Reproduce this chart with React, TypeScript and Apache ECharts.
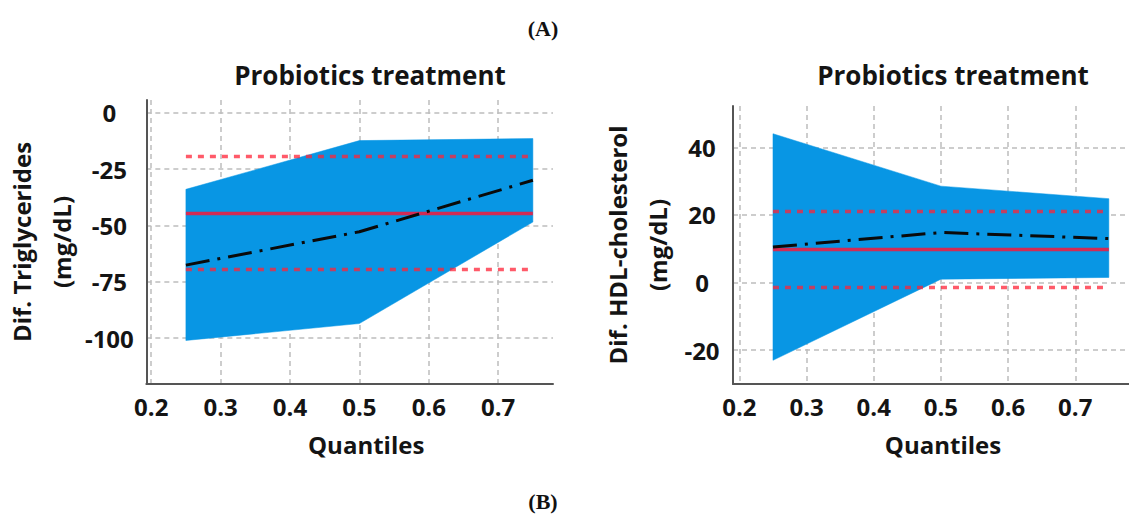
import React, { useEffect, useRef } from 'react';
import * as echarts from 'echarts';

// ---- data ----
const quantiles = [0.25, 0.5, 0.75];

// Panel 1: Triglycerides
const tgLower = [-101, -93.5, -48.5];
const tgUpper = [-34, -12.4, -11.5];
const tgEstimate = [-67.6, -52.8, -30];
const tgMean = -44.7;
const tgCiLow = -69.5;
const tgCiHigh = -19.5;

// Panel 2: HDL-cholesterol
const hdlLower = [-23, 1, 1.5];
const hdlUpper = [44, 28.5, 24.8];
const hdlEstimate = [10.5, 14.8, 13];
const hdlMean = 9.8;
const hdlCiLow = -1.5;
const hdlCiHigh = 21;

const xTicks = [0.2, 0.3, 0.4, 0.5, 0.6, 0.7];
const tgTicks = [-100, -75, -50, -25, 0];
const hdlTicks = [-20, 0, 20, 40];

const titleText = 'Probiotics treatment';
const xName = 'Quantiles';
const tgName = 'Dif. Triglycerides\n(mg/dL)';
const hdlName = 'Dif. HDL-cholesterol\n(mg/dL)';

// ---- styles ----
const FONT = "'Open Sans', sans-serif";
const TXT = '#141414';
const BLUE = '#0896e4';
const RED_SOLID = 'rgba(245,25,60,0.85)';
const RED_DOT = 'rgba(255,35,55,0.75)';
const GRID_LINE = { show: true, lineStyle: { color: '#bdbdbd', width: 1.5, type: [5, 4] as any } };

function xAxisFor(gridIndex: number, min: number, max: number, namePad: number) {
  return {
    type: 'value',
    gridIndex,
    min,
    max,
    name: xName,
    nameLocation: 'middle',
    nameGap: 48,
    nameTextStyle: { fontFamily: FONT, fontWeight: 'bold', fontSize: 24, color: TXT, padding: [0, 0, 0, namePad] },
    axisLine: { show: true, onZero: false, lineStyle: { color: '#555', width: 2 } },
    axisTick: { show: false, customValues: xTicks },
    axisLabel: {
      customValues: xTicks,
      formatter: (v: number) => v.toFixed(1),
      fontFamily: FONT,
      fontWeight: 'bold',
      fontSize: 24,
      color: TXT,
      margin: 10,
    },
    splitLine: GRID_LINE,
  };
}

function yAxisFor(gridIndex: number, min: number, max: number, ticks: number[], name: string, margin: number, nameGap: number) {
  return {
    type: 'value',
    gridIndex,
    min,
    max,
    name,
    nameLocation: 'middle',
    nameRotate: 90,
    nameGap,
    nameTextStyle: { fontFamily: FONT, fontWeight: 'bold', fontSize: 24, color: TXT, lineHeight: 40, align: 'center' },
    axisLine: { show: true, onZero: false, lineStyle: { color: '#555', width: 2 } },
    axisTick: { show: false, customValues: ticks },
    axisLabel: {
      customValues: ticks,
      fontFamily: FONT,
      fontWeight: 'bold',
      fontSize: 24,
      color: TXT,
      align: 'center',
      margin,
    },
    splitLine: GRID_LINE,
  };
}

function panelSeries(idx: number, lower: number[], upper: number[], est: number[], mean: number, ciLow: number, ciHigh: number) {
  const qMin = quantiles[0];
  const qMax = quantiles[quantiles.length - 1];
  const hLine = (v: number, color: string, type: any, width: number, z: number) => ({
    type: 'line',
    xAxisIndex: idx,
    yAxisIndex: idx,
    data: [[qMin, v], [qMax, v]],
    symbol: 'none',
    silent: true,
    z,
    lineStyle: { color, type, width },
  });
  return [
    {
      type: 'custom',
      xAxisIndex: idx,
      yAxisIndex: idx,
      silent: true,
      z: 2,
      data: quantiles.map((q, i) => [q, lower[i], upper[i]]),
      encode: { x: 0, y: [1, 2] },
      renderItem: (params: any, api: any) => {
        if (params.dataIndex !== 0) return null;
        const top = quantiles.map((q, i) => api.coord([q, upper[i]]));
        const bottom = quantiles.map((q, i) => api.coord([q, lower[i]])).reverse();
        return {
          type: 'polygon',
          shape: { points: top.concat(bottom) },
          style: { fill: BLUE, stroke: BLUE, lineWidth: 0.5 },
        };
      },
    },
    hLine(ciHigh, RED_DOT, [6, 6], 3.5, 3),
    hLine(ciLow, RED_DOT, [6, 6], 3.5, 3),
    hLine(mean, RED_SOLID, 'solid', 3.5, 4),
    {
      type: 'line',
      xAxisIndex: idx,
      yAxisIndex: idx,
      data: quantiles.map((q, i) => [q, est[i]]),
      symbol: 'none',
      silent: true,
      z: 5,
      lineStyle: { color: '#0a0a0a', width: 3, type: [24, 8, 3, 8] },
    },
  ];
}

export default function App() {
  const ref = useRef<HTMLDivElement>(null);
  useEffect(() => {
    if (!ref.current) return;
    const chart = echarts.init(ref.current, null, { renderer: 'svg' });
    const titleStyle = { fontFamily: FONT, fontWeight: 'bold', fontSize: 26, color: TXT };
    const labelFont = "bold 22px 'Liberation Serif', 'Times New Roman', serif";
    const option: any = {
      animation: false,
      backgroundColor: '#ffffff',
      title: [
        { text: titleText, left: 365, top: 57, textAlign: 'center', textStyle: titleStyle },
        { text: titleText, left: 948, top: 57, textAlign: 'center', textStyle: titleStyle },
      ],
      graphic: [
        {
          type: 'text',
          x: 543,
          y: 28,
          style: { text: '(A)', font: labelFont, fill: '#111', align: 'center', verticalAlign: 'middle' },
        },
        {
          type: 'text',
          x: 543,
          y: 501,
          style: { text: '(B)', font: labelFont, fill: '#111', align: 'center', verticalAlign: 'middle' },
        },
      ],
      grid: [
        { left: 144, top: 100, right: 576, bottom: 131, containLabel: false },
        { left: 733, top: 106, right: -15, bottom: 131, containLabel: false },
      ],
      xAxis: [xAxisFor(0, 0.193, 0.779, 33), xAxisFor(1, 0.1905, 0.78, 24)],
      yAxis: [
        yAxisFor(0, -120.3, 5.6, tgTicks, tgName, 37, 54),
        yAxisFor(1, -30, 52.2, hdlTicks, hdlName, 31, 56),
      ],
      series: [
        ...panelSeries(0, tgLower, tgUpper, tgEstimate, tgMean, tgCiLow, tgCiHigh),
        ...panelSeries(1, hdlLower, hdlUpper, hdlEstimate, hdlMean, hdlCiLow, hdlCiHigh),
      ],
    };
    chart.setOption(option);
    return () => chart.dispose();
  }, []);
  return (
    <div
      ref={ref}
      style={{ position: 'absolute', left: 0, top: 0, width: 1129, height: 515, background: '#fff' }}
    />
  );
}
